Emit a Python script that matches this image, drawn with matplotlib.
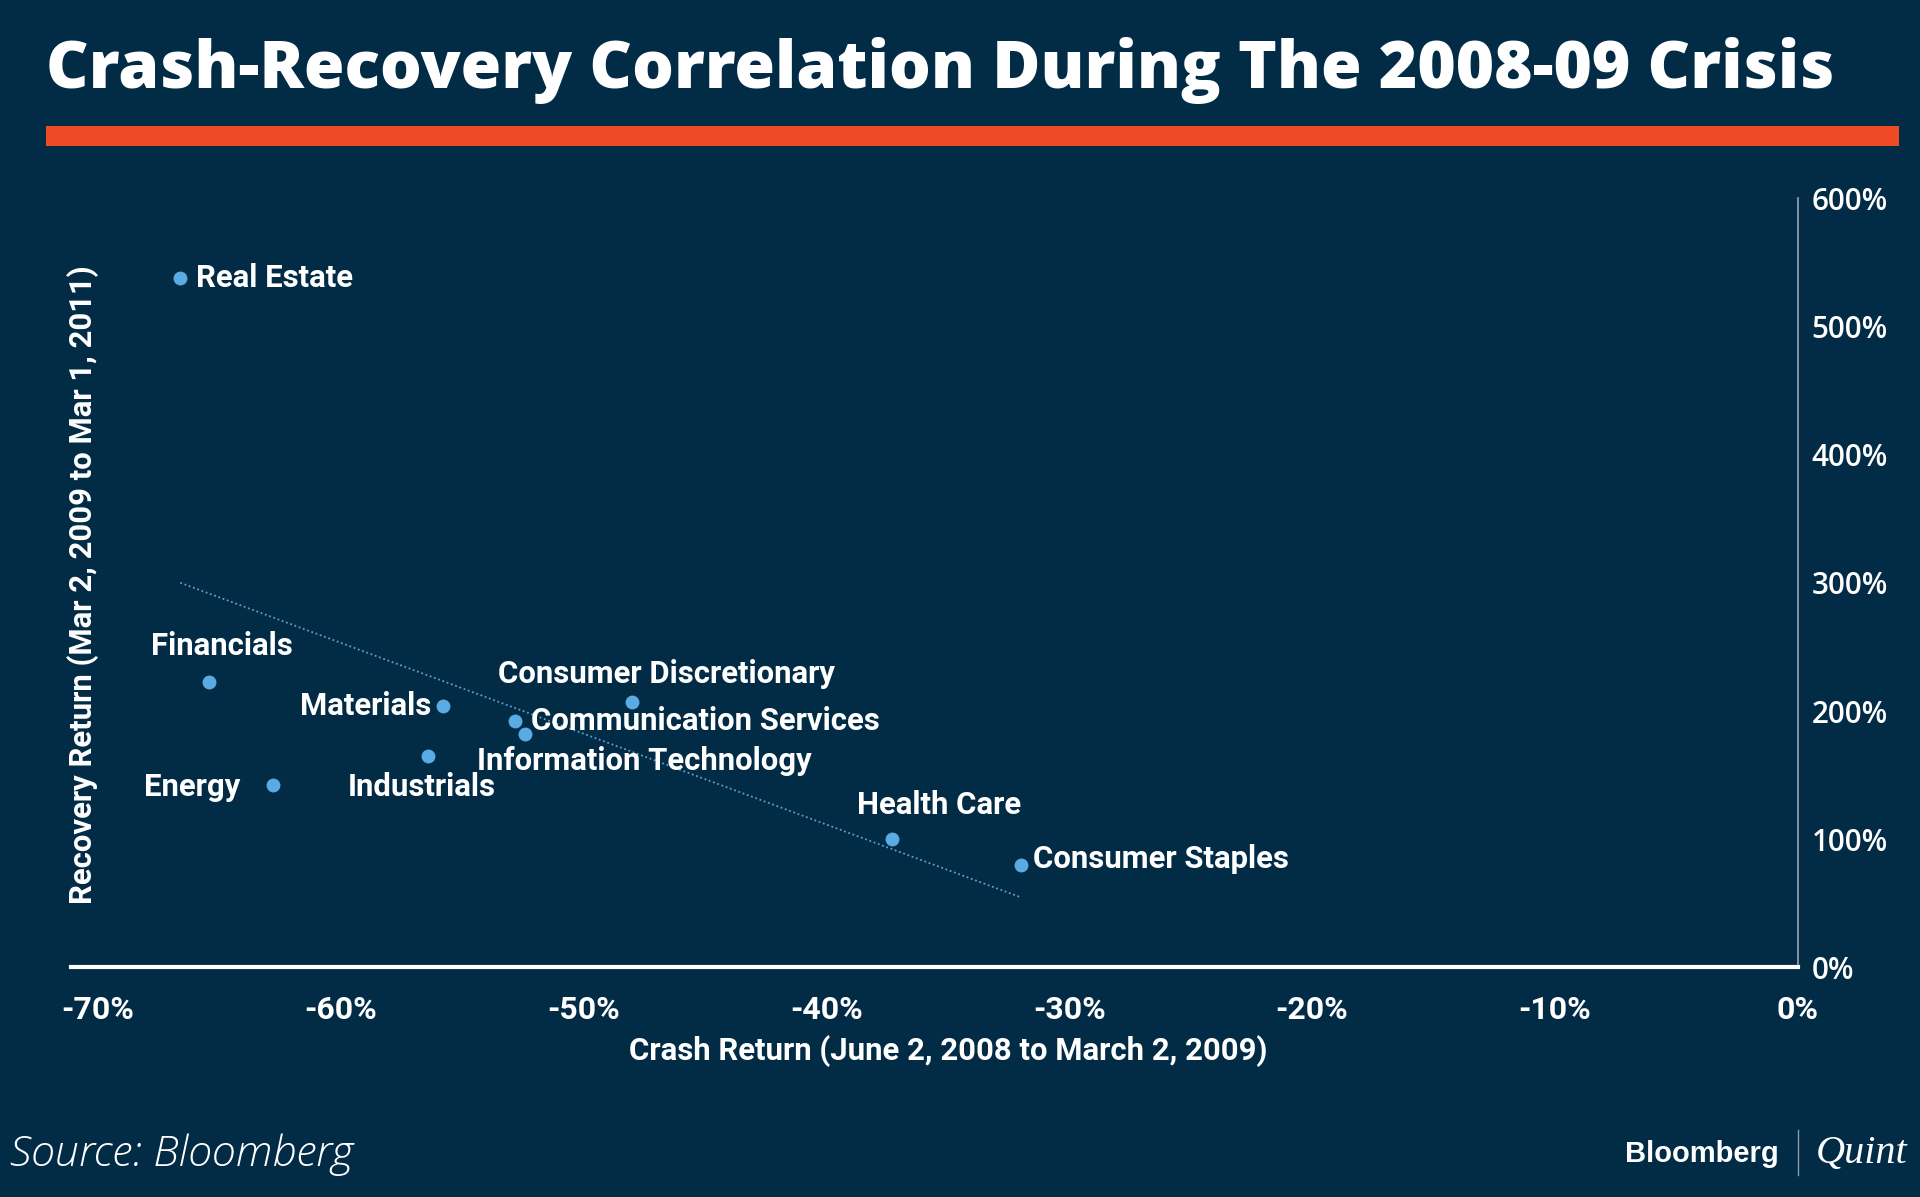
import numpy as np
import matplotlib
matplotlib.use("Agg")
import matplotlib.pyplot as plt

sectors = ["Real Estate", "Financials", "Energy", "Materials", "Industrials",
           "Communication Services", "Information Technology",
           "Consumer Discretionary", "Health Care", "Consumer Staples"]
crash = [-66.6, -65.4, -62.8, -55.8, -56.4, -52.8, -52.4, -48.0, -37.3, -32.0]
recovery = [538, 223, 142, 204, 165, 192, 182, 207, 100, 80]

xticks = [-70, -60, -50, -40, -30, -20, -10, 0]
yticks = [0, 100, 200, 300, 400, 500, 600]

bg = "#022b46"
dot = "#5aaae4"

# label placement: (dx px, dy px, ha)
offsets = {
    "Real Estate": (16, 0, "left"),
    "Financials": (12, 36, "center"),
    "Energy": (-32, -2, "right"),
    "Materials": (-11, 0, "right"),
    "Industrials": (-6, -31, "center"),
    "Communication Services": (16, 0, "left"),
    "Information Technology": (119, -27, "center"),
    "Consumer Discretionary": (34, 28, "center"),
    "Health Care": (47, 34, "center"),
    "Consumer Staples": (12, 6, "left"),
}

fig = plt.figure(figsize=(19.2, 11.97), dpi=100, facecolor=bg)
ax = fig.add_axes([0.037, 0.1918, 0.8993, 0.6425])
ax.set_facecolor(bg)

# trend line (least squares)
m, b = np.polyfit(crash, recovery, 1)
xs = np.array([min(crash), max(crash)])
ax.plot(xs, m * xs + b, color="#5f9fcc", lw=1.3, linestyle=(0, (1, 1.5)), zorder=2)

ax.scatter(crash, recovery, s=100, color=dot, zorder=3, linewidths=0)

for name, x, y in zip(sectors, crash, recovery):
    dx, dy, ha = offsets[name]
    ax.annotate(name, (x, y), xytext=(dx, dy), textcoords="offset pixels",
                ha=ha, va="center", color="white", fontsize=22.4,
                fontfamily="Roboto", fontweight="bold", zorder=4)

ax.set_xlim(-71.1, 0)
ax.set_ylim(0, 600)
ax.set_xticks(xticks)
ax.set_xticklabels([f"{t}%" for t in xticks], fontfamily="Roboto",
                   fontweight="bold", fontsize=23, color="white")
ax.set_yticks(yticks)
ax.set_yticklabels([f"{t}%" for t in yticks], fontfamily="Open Sans",
                   fontweight="semibold", fontsize=21.3, color="white")
ax.get_yticklabels()[0].set_color("#c8cdd2")
ax.yaxis.tick_right()
ax.tick_params(axis="x", length=0, pad=20)
ax.tick_params(axis="y", length=0, pad=10)

for s in ["top", "left"]:
    ax.spines[s].set_visible(False)
ax.spines["bottom"].set_color("white")
ax.spines["bottom"].set_linewidth(3)
ax.spines["right"].set_color("#9aa6b2")
ax.spines["right"].set_linewidth(1.2)

fig.text(0.494, 0.1223, "Crash Return (June 2, 2008 to March 2, 2009)",
         ha="center", va="center", color="white", fontsize=22.4,
         fontfamily="Roboto", fontweight="bold")
fig.text(0.0434, 0.512, "Recovery Return (Mar 2, 2009 to Mar 1, 2011)",
         ha="center", va="center", rotation=90, color="white", fontsize=22.4,
         fontfamily="Roboto", fontweight="bold")

# title, shrunk to the width it has in the original
title = fig.text(0.0242, 0.9265, "Crash-Recovery Correlation During The 2008-09 Crisis",
                 ha="left", va="baseline", color="white", fontsize=52,
                 fontfamily="Open Sans", fontweight="extra bold")
fig.canvas.draw()
w = title.get_window_extent().width
title.set_fontsize(52 * 1787 / w)

fig.add_artist(plt.Rectangle((0.0242, 1 - 146 / 1197), 0.9648, 20 / 1197,
                             transform=fig.transFigure, color="#ee4a26", lw=0))

# footer
fig.text(0.005, 0.035, "Source: Bloomberg", ha="left", va="center",
         color="white", fontsize=31, fontfamily="Open Sans",
         fontstyle="italic", fontweight="light")
fig.text(0.9265, 0.036, "Bloomberg", ha="right", va="center", color="white",
         fontsize=21, fontfamily="Liberation Sans", fontweight="bold")
fig.add_artist(plt.Line2D([0.9365, 0.9365], [0.018, 0.056],
                          transform=fig.transFigure, color="#8f9aa6", lw=1))
fig.text(0.9455, 0.036, "Quint", ha="left", va="center", color="white",
         fontsize=29, fontfamily="Liberation Serif", fontstyle="italic")

fig.savefig("out.png", dpi=100, facecolor=bg)
